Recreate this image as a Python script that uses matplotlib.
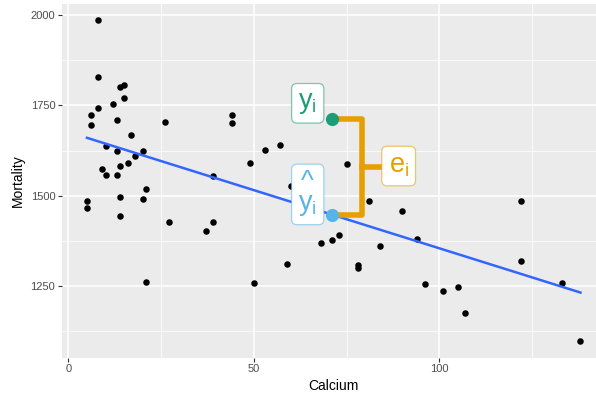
import numpy as np
import matplotlib.pyplot as plt
from matplotlib.colors import to_rgba

plt.rcParams['font.family'] = ['Liberation Sans', 'DejaVu Sans']

# water hardness data: calcium vs mortality for 61 towns
calcium = [105, 17, 5, 14, 18, 10, 15, 78, 10, 84, 73, 12, 21, 78, 96, 20,
           39, 39, 122, 21, 44, 94, 8, 9, 91, 138, 16, 37, 15, 8, 26, 44,
           14, 59, 133, 27, 6, 107, 5, 90, 6, 101, 13, 14, 49, 8, 14, 68,
           50, 75, 71, 13, 57, 71, 13, 20, 60, 53, 122, 81, 71]
mortality = [1247, 1668, 1466, 1800, 1609, 1558, 1807, 1299, 1637, 1359,
             1392, 1755, 1519, 1307, 1254, 1491, 1555, 1428, 1318, 1260,
             1723, 1379, 1742, 1574, 1569, 1096, 1591, 1402, 1772, 1828,
             1704, 1702, 1581, 1309, 1259, 1427, 1724, 1175, 1486, 1456,
             1696, 1236, 1711, 1444, 1591, 1987, 1495, 1369, 1257, 1587,
             1713, 1557, 1640, 1709, 1625, 1625, 1527, 1627, 1486, 1485,
             1378]

# highlighted observation
obs_x, obs_y = 71, 1713

GREEN = '#1B9E77'
BLUE = '#56B4E9'
ORANGE = '#E69F00'

slope, intercept = np.polyfit(calcium, mortality, 1)
fit_y = intercept + slope * obs_x

fig = plt.figure(figsize=(5.96, 3.93), dpi=100)
# panel runs past the right edge (the original image was cropped)
ax = fig.add_axes([0.1045, 0.0903, 0.9108, 0.8997])

ax.set_facecolor('#EBEBEB')
for s in ax.spines.values():
    s.set_visible(False)

ax.set_xlim(-1.65, 144.65)
ax.set_ylim(1051, 2031.5)
ax.set_xticks([0, 50, 100])
ax.set_yticks([1250, 1500, 1750, 2000])
ax.set_xticks([25, 75, 125], minor=True)
ax.set_yticks([1125, 1375, 1625, 1875], minor=True)
ax.grid(True, which='major', color='white', linewidth=1.1)
ax.grid(True, which='minor', color='white', linewidth=0.55)
ax.set_axisbelow(True)
ax.tick_params(which='major', length=3, width=0.8, color='#333333',
               labelcolor='#4D4D4D', labelsize=8, pad=2)
ax.tick_params(which='minor', length=0)

ax.set_xlabel('Calcium', fontsize=10, labelpad=3)
ax.set_ylabel('Mortality', fontsize=10, labelpad=4)

ax.scatter(calcium, mortality, s=22, color='black', zorder=3, linewidths=0)

xs = np.array([min(calcium), max(calcium)])
ax.plot(xs, intercept + slope * xs, color='#3366FF', linewidth=1.8, zorder=4)

# residual bracket
bx = 79.0
ax.plot([obs_x, bx, bx, obs_x], [obs_y, obs_y, fit_y, fit_y],
        color=ORANGE, linewidth=4, solid_joinstyle='round', zorder=5)
mid = (obs_y + fit_y) / 2
ax.plot([bx, 85], [mid, mid], color=ORANGE, linewidth=4, zorder=5)

ax.scatter([obs_x], [obs_y], s=90, color=GREEN, zorder=6, linewidths=0)
ax.scatter([obs_x], [fit_y], s=90, color=BLUE, zorder=6, linewidths=0)

def label(x, y, txt, col):
    ax.text(x, y, txt, color=col, fontsize=19.5, ha='center', va='center',
            linespacing=0.75, zorder=7,
            bbox=dict(boxstyle='round,pad=0.25,rounding_size=0.2',
                      fc='white', ec=to_rgba(col, 0.55), lw=0.9))

label(64.5, 1756, r'$\mathregular{y_i}$', GREEN)
label(64.5, 1506, '^\n' + r'$\mathregular{y_i}$', BLUE)
label(89.0, 1582, r'$\mathregular{e_i}$', ORANGE)

fig.savefig('out.png', dpi=100)
